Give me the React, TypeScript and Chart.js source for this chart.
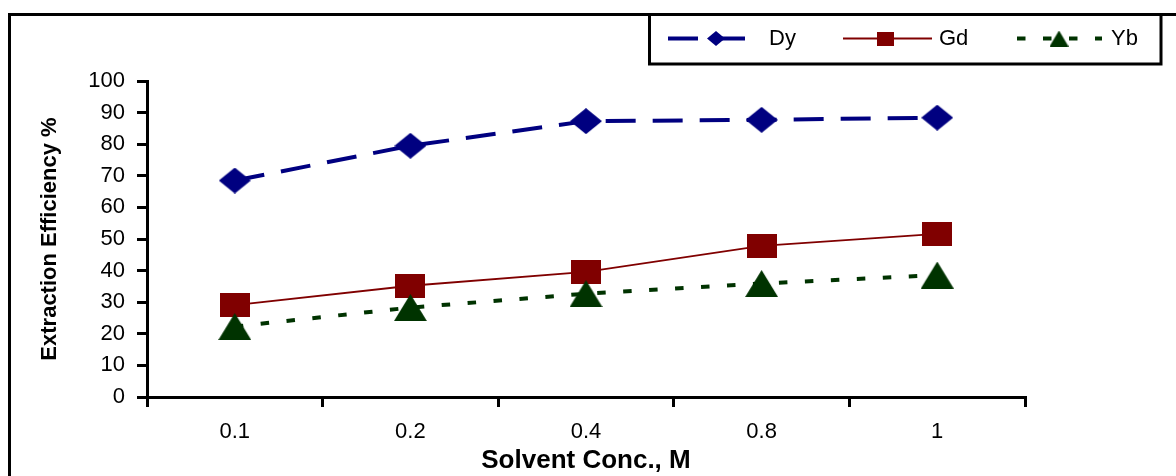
import { useEffect, useRef } from "react";
import { Chart, registerables } from "chart.js";

Chart.register(...registerables);

const categories = ["0.1", "0.2", "0.4", "0.8", "1"];
const dyValues = [68.5, 79.5, 87.3, 87.7, 88.4];
const gdValues = [29.1, 35.2, 39.6, 47.8, 51.6];
const ybValues = [22.3, 28.3, 32.7, 35.9, 38.6];
const seriesLabels = ["Dy", "Gd", "Yb"];
const xTitle = "Solvent Conc., M";
const yTitle = "Extraction Efficiency %";
const yMin = 0;
const yMax = 100;
const yStep = 10;

const DY_COLOR = "#000080";
const GD_COLOR = "#800000";
const YB_COLOR = "#003300";
const FONT = "'Liberation Sans', Arial, sans-serif";

type Shape = "diamond" | "square" | "triangle";

function makeMarker(shape: Shape, w: number, h: number, color: string): HTMLCanvasElement {
  const c = document.createElement("canvas");
  c.width = w;
  c.height = h;
  const ctx = c.getContext("2d")!;
  ctx.fillStyle = color;
  ctx.beginPath();
  if (shape === "diamond") {
    ctx.moveTo(w / 2, 0);
    ctx.lineTo(w, h / 2);
    ctx.lineTo(w / 2, h);
    ctx.lineTo(0, h / 2);
  } else if (shape === "square") {
    ctx.rect(0, 0, w, h);
  } else {
    ctx.moveTo(w / 2, 0);
    ctx.lineTo(w, h);
    ctx.lineTo(0, h);
  }
  ctx.closePath();
  ctx.fill();
  return c;
}

export default function App() {
  const ref = useRef<HTMLCanvasElement | null>(null);

  useEffect(() => {
    const canvas = ref.current;
    if (!canvas) return;

    const dyMarker = makeMarker("diamond", 32, 26, DY_COLOR);
    const gdMarker = makeMarker("square", 30, 24, GD_COLOR);
    const ybMarker = makeMarker("triangle", 33, 27, YB_COLOR);
    const legendMarkers = [
      makeMarker("diamond", 18, 15, DY_COLOR),
      makeMarker("square", 17, 14, GD_COLOR),
      makeMarker("triangle", 19, 16, YB_COLOR),
    ];

    const framePlugin = {
      id: "frame",
      beforeDraw(chart: any) {
        const ctx = chart.ctx;
        ctx.save();
        ctx.fillStyle = "#ffffff";
        ctx.fillRect(0, 0, chart.width, chart.height);
        ctx.strokeStyle = "#000000";
        ctx.lineWidth = 3;
        ctx.beginPath();
        ctx.moveTo(9.5, chart.height);
        ctx.lineTo(9.5, 14.5);
        ctx.lineTo(chart.width, 14.5);
        ctx.stroke();
        ctx.restore();
      },
    };

    const legendPlugin = {
      id: "customLegend",
      afterDraw(chart: any) {
        const ctx = chart.ctx;
        ctx.save();
        ctx.fillStyle = "#ffffff";
        ctx.fillRect(649, 14, 512, 50);
        ctx.strokeStyle = "#000000";
        ctx.lineWidth = 3;
        ctx.strokeRect(649.5, 14.5, 511.5, 49.5);
        const lines = [
          [668, 750],
          [843, 932],
          [1017, 1102],
        ];
        const markerX = [716, 885, 1059];
        const textX = [769, 939, 1111];
        const cy = 38.5;
        chart.data.datasets.forEach((ds: any, i: number) => {
          ctx.save();
          ctx.strokeStyle = ds.borderColor;
          ctx.lineWidth = ds.borderWidth;
          ctx.setLineDash(ds.borderDash || []);
          ctx.beginPath();
          ctx.moveTo(lines[i][0], cy);
          ctx.lineTo(lines[i][1], cy);
          ctx.stroke();
          ctx.restore();
          const m = legendMarkers[i];
          ctx.drawImage(m, markerX[i] - m.width / 2, cy - m.height / 2);
          ctx.fillStyle = "#000000";
          ctx.font = `22px ${FONT}`;
          ctx.textBaseline = "alphabetic";
          ctx.textAlign = "left";
          ctx.fillText(ds.label, textX[i], 45);
        });
        ctx.restore();
      },
    };

    const chart = new Chart(canvas, {
      type: "line",
      data: {
        labels: categories,
        datasets: [
          {
            label: seriesLabels[0],
            data: dyValues,
            borderColor: DY_COLOR,
            backgroundColor: DY_COLOR,
            borderWidth: 4,
            borderDash: [30, 17],
            pointStyle: dyMarker as any,
            pointRadius: 10,
            tension: 0,
            order: 3,
          },
          {
            label: seriesLabels[1],
            data: gdValues,
            borderColor: GD_COLOR,
            backgroundColor: GD_COLOR,
            borderWidth: 1.8,
            pointStyle: gdMarker as any,
            pointRadius: 10,
            tension: 0,
            order: 2,
          },
          {
            label: seriesLabels[2],
            data: ybValues,
            borderColor: YB_COLOR,
            backgroundColor: YB_COLOR,
            borderWidth: 4,
            borderDash: [8.5, 17.5],
            pointStyle: ybMarker as any,
            pointRadius: 10,
            tension: 0,
            order: 1,
          },
        ],
      },
      options: {
        animation: false,
        responsive: false,
        events: [],
        layout: { padding: { left: 0, top: 81, right: 151, bottom: 0 } },
        plugins: {
          legend: { display: false },
          tooltip: { enabled: false },
          title: { display: false },
        },
        scales: {
          x: {
            type: "category",
            offset: true,
            afterFit(scale: any) {
              scale.height = 79;
            },
            grid: {
              offset: true,
              drawOnChartArea: false,
              drawTicks: true,
              tickLength: 10,
              color: "#000000",
              lineWidth: 3,
            },
            border: { display: true, color: "#000000", width: 3 },
            ticks: {
              color: "#000000",
              font: { family: FONT, size: 22 },
              padding: 12,
              maxRotation: 0,
            },
            title: {
              display: true,
              text: xTitle,
              color: "#000000",
              font: { family: FONT, size: 26, weight: "bold" },
              padding: { top: 0, bottom: 0 },
            },
          },
          y: {
            min: yMin,
            max: yMax,
            afterFit(scale: any) {
              scale.width = 147;
            },
            grid: {
              drawOnChartArea: false,
              drawTicks: true,
              tickLength: 10,
              color: "#000000",
              lineWidth: 3,
            },
            border: { display: true, color: "#000000", width: 3 },
            ticks: {
              stepSize: yStep,
              color: "#000000",
              font: { family: FONT, size: 22 },
              padding: 12,
            },
            title: {
              display: true,
              text: yTitle,
              color: "#000000",
              font: { family: FONT, size: 22, weight: "bold" },
              padding: { top: 37, bottom: 0 },
            },
          },
        },
      },
      plugins: [framePlugin, legendPlugin],
    });

    return () => {
      chart.destroy();
    };
  }, []);

  return (
    <div style={{ position: "fixed", left: 0, top: 0, width: 1176, height: 476, background: "#ffffff" }}>
      <canvas ref={ref} width={1176} height={476} style={{ display: "block", width: 1176, height: 476 }} />
    </div>
  );
}
